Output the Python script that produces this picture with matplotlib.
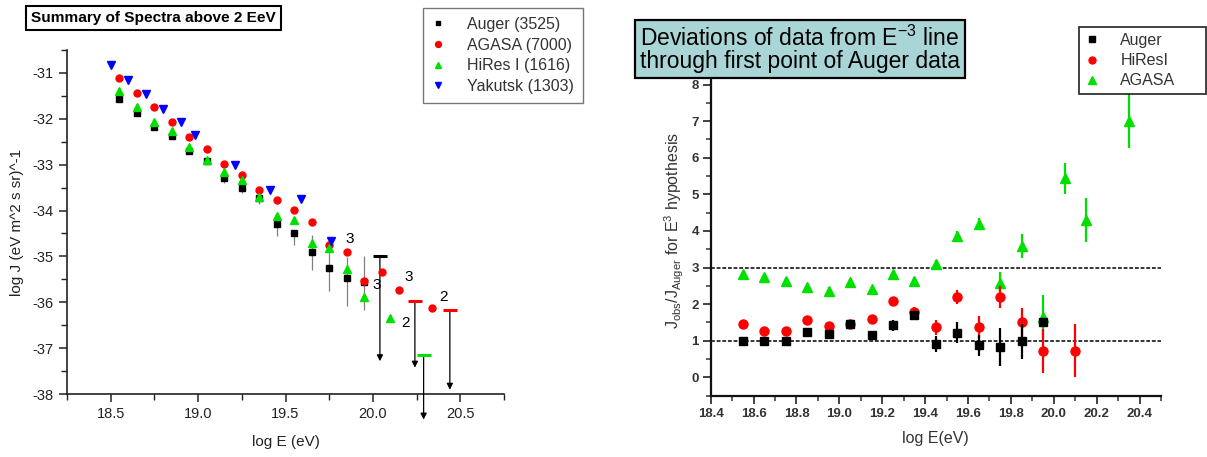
import matplotlib
matplotlib.use("Agg")
import matplotlib.pyplot as plt
from matplotlib.lines import Line2D
from matplotlib.ticker import MultipleLocator

plt.rcParams['font.family'] = ['Liberation Sans', 'DejaVu Sans']
plt.rcParams['mathtext.fontset'] = 'custom'
plt.rcParams['mathtext.rm'] = 'Liberation Sans'
plt.rcParams['mathtext.it'] = 'Liberation Sans'

# ---- left panel: flux spectra, log J vs log E ----
auger_x = [18.55, 18.65, 18.75, 18.85, 18.95, 19.05, 19.15, 19.25, 19.35, 19.45, 19.55, 19.65, 19.75, 19.85, 19.95]
auger_y = [-31.57, -31.88, -32.19, -32.38, -32.70, -32.92, -33.30, -33.52, -33.73, -34.30, -34.48, -34.91, -35.25, -35.47, -35.56]
auger_lo = [0.0, 0.0, 0.0, 0.05, 0.05, 0.05, 0.1, 0.1, 0.12, 0.25, 0.27, 0.38, 0.51, 0.60, 0.60]
auger_hi = [0.0, 0.0, 0.0, 0.0, 0.0, 0.0, 0.05, 0.05, 0.05, 0.0, 0.0, 0.38, 0.47, 0.45, 0.56]

agasa_x = [18.55, 18.65, 18.75, 18.85, 18.95, 19.05, 19.15, 19.25, 19.35, 19.45, 19.55, 19.65, 19.75, 19.85, 19.95, 20.05, 20.15, 20.34]
agasa_y = [-31.12, -31.44, -31.75, -32.08, -32.40, -32.66, -32.99, -33.22, -33.55, -33.78, -33.98, -34.25, -34.75, -34.91, -35.54, -35.34, -35.74, -36.12]

hires_x = [18.55, 18.65, 18.75, 18.85, 18.95, 19.05, 19.15, 19.25, 19.35, 19.45, 19.55, 19.65, 19.75, 19.85, 19.95, 20.10]
hires_y = [-31.39, -31.75, -32.07, -32.26, -32.61, -32.90, -33.17, -33.34, -33.71, -34.13, -34.20, -34.71, -34.82, -35.27, -35.88, -36.34]

yakutsk_x = [18.50, 18.60, 18.70, 18.80, 18.90, 18.98, 19.21, 19.41, 19.59, 19.76]
yakutsk_y = [-30.83, -31.15, -31.46, -31.78, -32.07, -32.35, -33.01, -33.55, -33.75, -34.67]

# upper limits: x, limit level, arrow tip, colour of the bar
limit_x = [20.04, 20.24, 20.44, 20.29]
limit_y = [-35.00, -35.96, -36.17, -37.14]
limit_tip = [-37.28, -37.42, -37.90, -38.55]
limit_color = ['black', 'red', 'red', '#00e000']

# event-count labels
count_text = ['3', '3', '3', '2', '2']
count_x = [19.84, 20.0, 20.18, 20.38, 20.16]
count_y = [-34.62, -35.62, -35.44, -35.88, -36.44]

# ---- right panel: ratio to E^-3 line ----
r_x = [18.55, 18.65, 18.75, 18.85, 18.95, 19.05, 19.15, 19.25, 19.35, 19.45, 19.55, 19.65, 19.75, 19.85, 19.95]
r_auger = [1.00, 0.99, 0.99, 1.25, 1.18, 1.46, 1.15, 1.42, 1.70, 0.91, 1.22, 0.88, 0.82, 0.99, 1.52]
r_auger_err = [0.05, 0.05, 0.05, 0.06, 0.06, 0.07, 0.07, 0.15, 0.12, 0.22, 0.28, 0.29, 0.52, 0.48, 0.08]

r_hires_x = [18.55, 18.65, 18.75, 18.85, 18.95, 19.05, 19.15, 19.25, 19.35, 19.45, 19.55, 19.65, 19.75, 19.85, 19.95, 20.10]
r_hires = [1.46, 1.26, 1.26, 1.57, 1.40, 1.47, 1.59, 2.08, 1.79, 1.37, 2.20, 1.37, 2.20, 1.52, 0.72, 0.73]
r_hires_err = [0.07, 0.07, 0.07, 0.08, 0.08, 0.08, 0.09, 0.1, 0.12, 0.21, 0.2, 0.3, 0.3, 0.38, 0.6, 0.72]

r_agasa_x = [18.55, 18.65, 18.75, 18.85, 18.95, 19.05, 19.15, 19.25, 19.35, 19.45, 19.55, 19.65, 19.75, 19.85, 19.95, 20.05, 20.15, 20.35]
r_agasa = [2.82, 2.75, 2.64, 2.48, 2.36, 2.60, 2.41, 2.82, 2.64, 3.10, 3.87, 4.20, 2.57, 3.59, 1.66, 5.44, 4.30, 7.01]
r_agasa_err = [0.08, 0.08, 0.08, 0.08, 0.1, 0.1, 0.1, 0.1, 0.1, 0.1, 0.12, 0.15, 0.32, 0.32, 0.59, 0.42, 0.6, 0.75]

GREEN = '#00e000'

fig = plt.figure(figsize=(12.07, 4.57), dpi=100)

# left panel
ax1 = fig.add_axes([0.0555, 0.1372, 0.3621, 0.754])
ax1.errorbar(auger_x, auger_y, yerr=[auger_lo, auger_hi], fmt='none', ecolor='#808080', elinewidth=0.9, zorder=1)
ax1.plot(auger_x, auger_y, 's', color='black', ms=4.2, zorder=3, label='Auger (3525)')
ax1.plot(agasa_x, agasa_y, 'o', color='red', ms=5, zorder=4, label='AGASA (7000)')
ax1.plot(hires_x, hires_y, '^', color=GREEN, ms=5.2, zorder=5, label='HiRes I (1616)')
ax1.plot(yakutsk_x, yakutsk_y, 'v', color='blue', ms=5.2, zorder=6, label='Yakutsk (1303)')

for x, y, tip, c in zip(limit_x, limit_y, limit_tip, limit_color):
    ax1.plot([x - 0.04, x + 0.04], [y, y], color=c, lw=2.2, solid_capstyle='butt', zorder=4, clip_on=False)
    ax1.annotate('', xy=(x, tip), xytext=(x, y), annotation_clip=False,
                 arrowprops=dict(arrowstyle='-|>', color='black', lw=0.9, mutation_scale=9,
                                 shrinkA=0, shrinkB=0))

for t, x, y in zip(count_text, count_x, count_y):
    ax1.text(x, y, t, fontsize=11, color='black', ha='left', va='center')

ax1.set_xlim(18.25, 20.75)
ax1.set_ylim(-38, -30.5)
ax1.xaxis.set_major_locator(MultipleLocator(0.5))
ax1.xaxis.set_minor_locator(MultipleLocator(0.25))
ax1.yaxis.set_major_locator(MultipleLocator(1))
ax1.yaxis.set_minor_locator(MultipleLocator(0.5))
ax1.spines['top'].set_visible(False)
ax1.spines['right'].set_visible(False)
for s in ('left', 'bottom'):
    ax1.spines[s].set_linewidth(1.2)
    ax1.spines[s].set_color('#222222')
ax1.tick_params(which='major', direction='out', length=6, width=1.1, labelsize=10.5, colors='#222222')
ax1.tick_params(which='minor', direction='out', length=4, width=1.0, colors='#222222')
ax1.xaxis.set_major_formatter(plt.FormatStrFormatter('%.1f'))
ax1.yaxis.set_major_formatter(plt.FuncFormatter(lambda v, p: '%d' % v))
ax1.set_xlabel('log E (eV)', fontsize=11, labelpad=10, color='#222222')
ax1.set_ylabel('log J (eV m^2 s sr)^-1', fontsize=11, labelpad=6, color='#222222')

leg1 = ax1.legend(loc='upper left', bbox_to_anchor=(0.3505, 0.9825), bbox_transform=fig.transFigure,
                  frameon=True, fancybox=False, edgecolor='#555555', fontsize=11.5, handlelength=0.8,
                  handletextpad=1.4, borderpad=0.55, labelspacing=0.36, borderaxespad=0, markerscale=0.85)
leg1.get_frame().set_linewidth(1.0)
for t in leg1.get_texts():
    t.set_color('#333333')

fig.text(0.0255, 0.9606, 'Summary of Spectra above 2 EeV', fontsize=11.1, fontweight='bold',
         ha='left', va='center',
         bbox=dict(boxstyle='square,pad=0.33', facecolor='white', edgecolor='black', linewidth=1.5))

# right panel
ax2 = fig.add_axes([0.5888, 0.1341, 0.3731, 0.7210])
ax2.axhline(3, color='black', lw=1.1, ls=(0, (2.5, 1.2)), zorder=1)
ax2.axhline(1, color='black', lw=1.1, ls=(0, (2.5, 1.2)), zorder=1)
ax2.errorbar(r_agasa_x, r_agasa, yerr=r_agasa_err, fmt='^', color=GREEN, ms=7, elinewidth=1.6,
             capsize=0, zorder=2)
ax2.errorbar(r_hires_x, r_hires, yerr=r_hires_err, fmt='o', color='red', ms=6.5, elinewidth=1.6,
             capsize=0, zorder=3)
ax2.errorbar(r_x, r_auger, yerr=r_auger_err, fmt='s', color='black', ms=5.5, elinewidth=1.6,
             capsize=0, zorder=4)

ax2.set_xlim(18.4, 20.5)
ax2.set_ylim(-0.5, 8.5)
ax2.xaxis.set_major_locator(MultipleLocator(0.2))
ax2.xaxis.set_minor_locator(MultipleLocator(0.1))
ax2.yaxis.set_major_locator(MultipleLocator(1))
ax2.yaxis.set_minor_locator(MultipleLocator(0.5))
ax2.spines['top'].set_visible(False)
ax2.spines['right'].set_visible(False)
for s in ('left', 'bottom'):
    ax2.spines[s].set_linewidth(1.6)
    ax2.spines[s].set_color('#111111')
ax2.tick_params(which='major', direction='out', length=6, width=1.3, labelsize=9.5, colors='#333333', pad=2.5)
ax2.tick_params(which='minor', direction='out', length=3.5, width=1.1, colors='#333333')
for lab in ax2.get_xticklabels() + ax2.get_yticklabels():
    lab.set_fontweight('bold')
ax2.xaxis.set_major_formatter(plt.FormatStrFormatter('%.1f'))
ax2.set_xlabel('log E(eV)', fontsize=11.5, labelpad=8, color='#333333')
ax2.set_ylabel(r'J$_{\rm obs}$/J$_{\rm Auger}$ for E$^{3}$ hypothesis', fontsize=11.5, labelpad=4,
               color='#333333')

# legend shows bare markers, box stretched to a fixed width
handles = [Line2D([], [], ls='none', marker='s', color='black', ms=4.5),
           Line2D([], [], ls='none', marker='o', color='red', ms=5),
           Line2D([], [], ls='none', marker='^', color=GREEN, ms=5.5)]
leg2 = ax2.legend(handles, ['Auger', 'HiResI', 'AGASA'], loc='upper left',
                  bbox_to_anchor=(0.894, 0.941 - 0.15, 0.105, 0.15), mode='expand',
                  bbox_transform=fig.transFigure, frameon=True, fancybox=False, edgecolor='black',
                  fontsize=11.5, handlelength=0.8, handletextpad=1.4, borderpad=0.38, labelspacing=0.32,
                  borderaxespad=0)
leg2.get_frame().set_linewidth(1.3)
for t in leg2.get_texts():
    t.set_color('#333333')

fig.text(0.5305, 0.892, 'Deviations of data from E$^{-3}$ line\nthrough first point of Auger data',
         fontsize=16.5, ha='left', va='center', linespacing=1.0,
         bbox=dict(boxstyle='square,pad=0.22', facecolor='#a9d5d6', edgecolor='black', linewidth=1.6))

fig.savefig('out.png', dpi=100)
